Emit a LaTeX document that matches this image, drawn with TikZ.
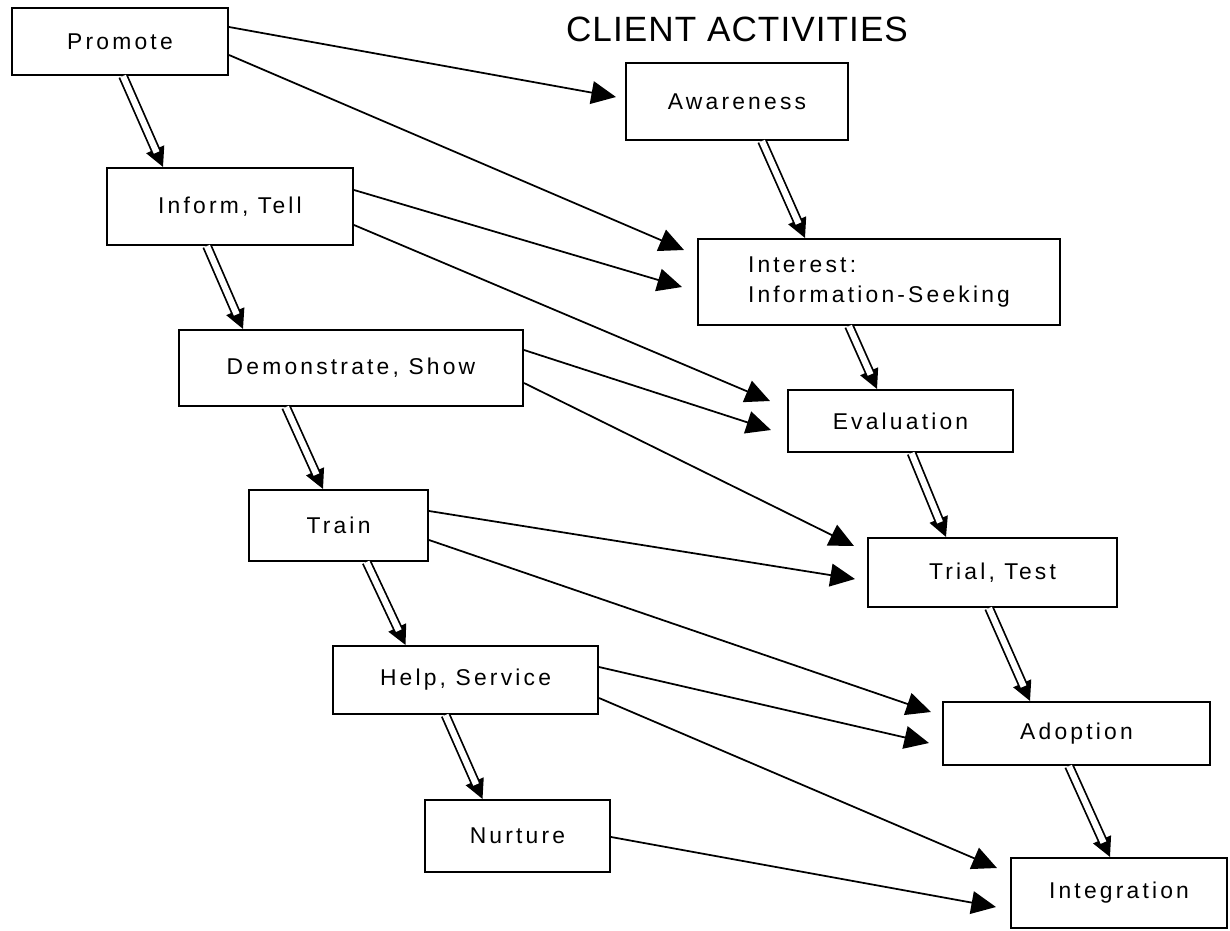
\documentclass[tikz,border=0pt]{standalone}
\usepackage{fontspec}
\setmainfont{Liberation Sans}
\newfontfamily\boxfont[LetterSpace=14]{Liberation Sans}
\newfontfamily\titlefont[LetterSpace=3]{Liberation Sans}
\usetikzlibrary{arrows.meta,calc}

\begin{document}
\begin{tikzpicture}[x=0.02cm, y=-0.02cm,
  box/.style={draw, line width=1.2pt, inner sep=0pt, font=\boxfont\fontsize{13}{17}\selectfont},
  link/.style={line width=1pt, -{Triangle[length=14pt, width=13pt]}},
  tipline/.style={line width=1pt, -{Triangle[length=11pt, width=11pt]}},
  dblline/.style={line width=1pt, double, double distance=3.5pt, shorten >=9pt}]

\useasboundingbox (0,0) rectangle (1230,930);

\node[font=\titlefont\fontsize{20}{24}\selectfont] (title) at (737,29) {CLIENT ACTIVITIES};

% left column
\node[box, minimum width=4.32cm, minimum height=1.34cm] (promote) at (120,41.5) {Promote};
\node[box, minimum width=4.92cm, minimum height=1.54cm] (inform) at (230,206.5) {Inform, Tell};
\node[box, minimum width=6.88cm, minimum height=1.52cm] (demo) at (351,368) {Demonstrate, Show};
\node[box, minimum width=3.58cm, minimum height=1.42cm] (train) at (338.5,525.5) {Train};
\node[box, minimum width=5.3cm, minimum height=1.36cm] (help) at (465.5,680) {Help, Service};
\node[box, minimum width=3.7cm, minimum height=1.44cm] (nurture) at (517.5,836) {Nurture};

% right column
\node[box, minimum width=4.44cm, minimum height=1.54cm] (aware) at (737,101.5) {Awareness};
\node[box, minimum width=7.24cm, minimum height=1.72cm, align=left] (interest) at (879,282) {Interest:\\Information-Seeking};
\node[box, minimum width=4.5cm, minimum height=1.24cm] (eval) at (900.5,421) {Evaluation};
\node[box, minimum width=4.98cm, minimum height=1.38cm] (trial) at (992.5,572.5) {Trial, Test};
\node[box, minimum width=5.34cm, minimum height=1.26cm] (adopt) at (1076.5,733.5) {Adoption};
\node[box, minimum width=4.32cm, minimum height=1.4cm] (integ) at (1119,893) {Integration};

% hollow steps down each column
\foreach \a/\s/\b/\e in {promote/3/inform/-67, inform/-23/demo/-108, demo/-65/train/-15.5,
    train/28/help/-60, help/-20/nurture/-35, aware/25/interest/-74, interest/-30/eval/-23.5,
    eval/11/trial/-46.5, trial/-3.5/adopt/-46.5, adopt/-7.5/integ/-9}{
  \draw[tipline] ($(\a.south)+(\s,0)$) -- ($(\b.north)+(\e,0)$);
  \draw[dblline] ($(\a.south)+(\s,0)$) -- ($(\b.north)+(\e,0)$);
}

% links across
\foreach \a/\sy/\b/\ex/\ey in {promote/-14.5/aware/-9/-4.5, promote/13.5/interest/-13/-32,
    inform/-16.5/interest/-15/5, inform/18.5/eval/-17/-20, demo/-18/eval/-16/9,
    demo/15/trial/-13/-26.5, train/-14.5/trial/-12/6.5, train/14.5/adopt/-11/-21.5,
    help/-13/adopt/-13/9.5, help/18/integ/-13/-25, nurture/1/integ/-14/14}{
  \draw[link] ($(\a.east)+(0,\sy)$) -- ($(\b.west)+(\ex,\ey)$);
}

\end{tikzpicture}
\end{document}
